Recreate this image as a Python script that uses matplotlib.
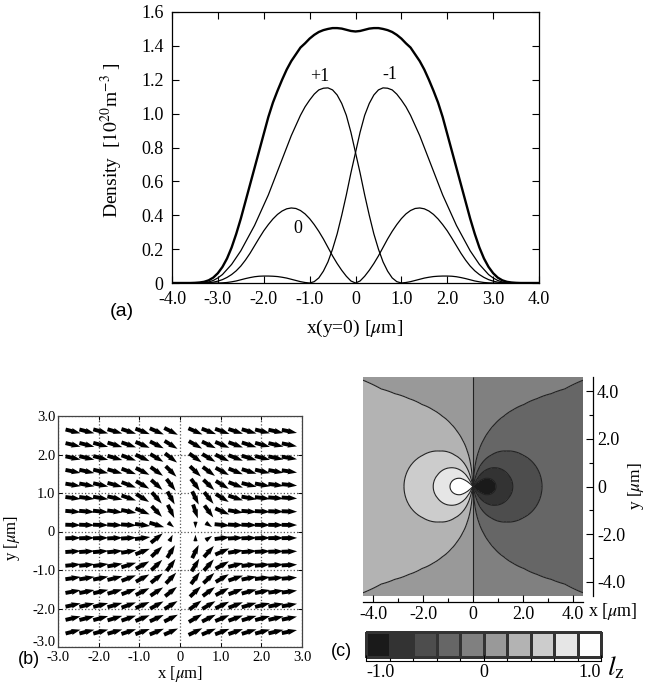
import numpy as np
import matplotlib
matplotlib.use('Agg')
import matplotlib.pyplot as plt
import matplotlib.transforms as mtransforms
from matplotlib.colors import ListedColormap, BoundaryNorm

plt.rcParams['font.family'] = 'serif'
plt.rcParams['font.serif'] = ['Liberation Serif', 'DejaVu Serif']
plt.rcParams['mathtext.fontset'] = 'stix'

W, H = 647, 685

# ---------------- (a) densities along y = 0 ----------------
x_a = np.round(np.arange(-4.0, 4.01, 0.1), 1)

# m = +1 component, x = -4.0 ... 4.0
dens_p1 = [0, 0, 0, 0, 0, 0, 0,
           0.002, 0.006, 0.015, 0.03, 0.05, 0.08, 0.11, 0.15, 0.19, 0.24,
           0.29, 0.34, 0.40, 0.46, 0.52, 0.59, 0.66, 0.73, 0.80, 0.87,
           0.93, 0.99, 1.04, 1.08, 1.115, 1.14, 1.15, 1.152, 1.14, 1.11,
           1.06, 0.99, 0.89, 0.77, 0.65, 0.52, 0.40, 0.29, 0.20, 0.125,
           0.07, 0.03, 0.008, 0.0, 0.003, 0.008, 0.015, 0.022, 0.029, 0.034,
           0.038, 0.040, 0.041, 0.041, 0.040, 0.037, 0.032, 0.026, 0.019, 0.012,
           0.007, 0.003, 0.001,
           0, 0, 0, 0, 0, 0, 0, 0, 0, 0, 0]
# m = -1 is the mirror image of m = +1
dens_m1 = dens_p1[::-1]

# m = 0 component and total density, x = 0 ... 4.0 (symmetric)
dens_0_half = [0.0, 0.012, 0.04, 0.075, 0.115, 0.16, 0.21, 0.26, 0.305, 0.345,
               0.38, 0.408, 0.428, 0.44, 0.443, 0.438, 0.425, 0.405, 0.378, 0.345,
               0.308, 0.265, 0.22, 0.175, 0.135, 0.10, 0.072, 0.05, 0.033, 0.02,
               0.011, 0.005, 0.002, 0.0, 0, 0, 0, 0, 0, 0, 0]
dens_tot_half = [1.485, 1.488, 1.495, 1.502, 1.505, 1.505, 1.50, 1.493, 1.482, 1.465,
                 1.443, 1.415, 1.39, 1.35, 1.31, 1.26, 1.20, 1.135, 1.065, 0.98,
                 0.88, 0.78, 0.68, 0.58, 0.48, 0.38, 0.29, 0.21, 0.145, 0.095,
                 0.058, 0.032, 0.016, 0.007, 0.003, 0.001, 0.0, 0, 0, 0, 0]

dens_0 = list(dens_0_half[:0:-1]) + list(dens_0_half)
dens_tot = list(dens_tot_half[:0:-1]) + list(dens_tot_half)

curve_labels = [('+1', -0.77, 1.22), ('-1', 0.75, 1.23), ('0', -1.25, 0.32)]

# ---------------- (b) in-plane spin texture ----------------
b_cols = [-2.63, -2.29, -1.95, -1.60, -1.26, -0.92, -0.57, -0.22,
          0.38, 0.71, 1.04, 1.37, 1.70, 2.03, 2.36, 2.69]
b_rows = [2.60, 2.25, 1.91, 1.56, 1.21, 0.87, 0.52, 0.17,
          -0.17, -0.52, -0.87, -1.21, -1.56, -1.91, -2.25, -2.60]
# arrow direction in degrees, one row per b_rows entry
b_angles = [
    [-15, -15, -16, -17, -19, -22, -25, -28, -25, -22, -21, -19, -17, -15, -13, -12],
    [-14, -15, -16, -18, -20, -24, -28, -33, -31, -27, -24, -21, -19, -16, -14, -12],
    [-13, -14, -15, -17, -21, -26, -32, -39, -37, -32, -27, -22, -18, -15, -12, -10],
    [-12, -13, -14, -17, -22, -28, -37, -46, -45, -38, -30, -23, -18, -14, -11, -9],
    [-10, -11, -13, -16, -22, -31, -43, -54, -55, -45, -33, -22, -15, -11, -8, -6],
    [-8, -8, -10, -13, -20, -33, -50, -62, -65, -53, -33, -19, -11, -7, -5, -4],
    [-5, -5, -6, -8, -12, -24, -48, -65, -72, -55, -25, -10, -5, -3, -2, -2],
    [-2, -2, -2, -3, -4, -8, -18, -40, -90, -35, -6, -3, -2, -1, -1, -1],
    [2, 2, 2, 3, 4, 8, 40, 65, 90, 35, 8, 4, 2, 2, 1, 1],
    [4, 4, 5, 6, 10, 22, 45, 60, 65, 50, 25, 10, 5, 3, 2, 2],
    [6, 6, 8, 11, 18, 30, 45, 55, 60, 50, 30, 15, 8, 6, 4, 3],
    [9, 10, 12, 15, 22, 30, 40, 48, 55, 45, 32, 20, 12, 8, 6, 5],
    [11, 12, 14, 17, 22, 28, 35, 40, 45, 38, 30, 22, 16, 12, 9, 8],
    [13, 14, 15, 17, 21, 25, 30, 33, 38, 32, 27, 22, 18, 15, 12, 10],
    [14, 15, 16, 18, 20, 23, 26, 28, 32, 28, 24, 21, 18, 16, 14, 12],
    [15, 15, 16, 17, 19, 21, 23, 25, 27, 24, 22, 20, 18, 16, 14, 12],
]
# shortened arrows next to the core: (row, column, relative length)
b_short = [(7, 7, 0.5), (7, 8, 0.45), (7, 9, 0.5),
           (8, 7, 0.5), (8, 8, 0.45), (8, 9, 0.5)]

# ---------------- (c) l_z map ----------------
# radial amplitude of l_z read from the contour crossings on the x axis
lz_r = [0, 0.3, 0.6, 0.92, 1.2, 1.5, 2.0, 2.4, 2.76, 3.2, 3.6, 4.0, 4.5, 5.0, 5.5, 6.5]
lz_amp = [1.0, 0.96, 0.9, 0.8, 0.71, 0.62, 0.51, 0.445, 0.40, 0.355, 0.325, 0.30,
          0.28, 0.265, 0.255, 0.245]
lz_levels = [-1.0, -0.8, -0.6, -0.4, -0.2, 0.0, 0.2, 0.4, 0.6, 0.8, 1.0]
grays = ['#1a1a1a', '#333333', '#4d4d4d', '#666666', '#808080',
         '#999999', '#b3b3b3', '#cccccc', '#e6e6e6', '#ffffff']


def box(l, t, r, b):
    return [l / W, 1 - b / H, (r - l) / W, (b - t) / H]


def ftext(x, y, s, **kw):
    fig.text(x / W, 1 - y / H, s, **kw)


fig = plt.figure(figsize=(W / 100, H / 100), dpi=100)

# ---- panel (a)
ax_a = fig.add_axes(box(172, 12, 539, 283))
ax_a.plot(x_a, dens_tot, color='k', lw=1.7)
ax_a.plot(x_a, dens_p1, color='k', lw=0.9)
ax_a.plot(x_a, dens_m1, color='k', lw=0.9)
ax_a.plot(x_a, dens_0, color='k', lw=0.9)
for txt, lx, ly in curve_labels:
    ax_a.text(lx, ly, txt, fontsize=13, ha='center', va='center')
ax_a.set_xlim(-4, 4)
ax_a.set_ylim(0, 1.6)
ax_a.set_xticks(np.arange(-4, 4.1, 1))
ax_a.set_xticklabels(['-4.0', '-3.0', '-2.0', '-1.0', '0', '1.0', '2.0', '3.0', '4.0'])
ax_a.set_yticks(np.arange(0, 1.61, 0.2))
ax_a.set_yticklabels(['0', '0.2', '0.4', '0.6', '0.8', '1.0', '1.2', '1.4', '1.6'])
ax_a.tick_params(direction='in', top=True, right=True, length=5, width=0.8,
                 labelsize=13, pad=6)
for s in ax_a.spines.values():
    s.set_linewidth(0.9)
ftext(112, 140, r'Density  [$10^{20}$m$^{-3}$ ]', rotation=90, fontsize=14,
      ha='center', va='center')
ftext(355, 328, r'x(y=0) [$\mu$m]', fontsize=14, ha='center', va='center')
ftext(122, 312, '(a)', fontsize=14, family='Liberation Sans', ha='center', va='center')

# ---- panel (b)
ax_b = fig.add_axes(box(58, 416, 302, 647))
Xq, Yq = np.meshgrid(b_cols, b_rows)
rel = np.ones_like(Xq)
for i, j, f in b_short:
    rel[i, j] = f
ang = np.radians(np.array(b_angles, dtype=float))
U = 0.38 * rel * np.cos(ang)
V = 0.38 * rel * np.sin(ang)
ax_b.quiver(Xq, Yq, U, V, angles='xy', scale_units='xy', scale=1, pivot='mid',
            width=0.016, headwidth=1.6, headlength=2.4, headaxislength=2.2,
            color='k', zorder=3)
ax_b.set_xlim(-3, 3)
ax_b.set_ylim(-3, 3)
ticks_b = np.arange(-3, 3.1, 1)
labels_b = ['-3.0', '-2.0', '-1.0', '0', '1.0', '2.0', '3.0']
ax_b.set_xticks(ticks_b)
ax_b.set_xticklabels(labels_b)
ax_b.set_yticks(ticks_b)
ax_b.set_yticklabels(labels_b)
ax_b.grid(True, linestyle=':', color='#555555', lw=0.9, zorder=1)
ax_b.tick_params(direction='in', top=True, right=True, length=3, width=0.7,
                 labelsize=10.5, pad=2)
ax_b.tick_params(axis='x', pad=3)
# lift the lowest y label clear of the x labels
lowest = ax_b.get_yticklabels()[0]
lowest.set_transform(lowest.get_transform() +
                     mtransforms.ScaledTranslation(0, 4 / 72, fig.dpi_scale_trans))
for s in ax_b.spines.values():
    s.set_linewidth(0.9)
    s.set_color('#444444')
ftext(12, 538, r'y [$\mu$m]', rotation=90, fontsize=12, ha='center', va='center')
ftext(180, 674, r'x [$\mu$m]', fontsize=12, ha='center', va='center')
ftext(29, 660, '(b)', fontsize=13, family='Liberation Sans', ha='center', va='center')

# ---- panel (c)
ax_c = fig.add_axes(box(363, 377, 583, 596))
gx = np.linspace(-4.4, 4.4, 800)
gy = np.linspace(-4.6, 4.6, 800)
GX, GY = np.meshgrid(gx, gy)
R = np.hypot(GX, GY)
lz = -np.sign(GX) * np.abs(GX / R) ** 0.6 * np.interp(R, lz_r, lz_amp)
lz = np.clip(lz, -0.999, 0.999)
cmap = ListedColormap(grays)
norm = BoundaryNorm(lz_levels, cmap.N)
ax_c.contourf(GX, GY, lz, levels=lz_levels, cmap=cmap, norm=norm)
ax_c.contour(GX, GY, lz, levels=lz_levels[1:-1], colors='#222222',
             linewidths=0.8, linestyles='solid')
ax_c.set_xlim(-4.4, 4.4)
ax_c.set_ylim(-4.6, 4.6)
ax_c.spines['left'].set_visible(False)
ax_c.spines['top'].set_visible(False)
ax_c.spines['bottom'].set_position(('outward', 4))
ax_c.spines['right'].set_position(('outward', 7))
ax_c.yaxis.tick_right()
ax_c.set_xticks([-4, -2, 0, 2, 4])
ax_c.set_xticklabels(['-4.0', '-2.0', '0', '2.0', '4.0'])
ax_c.set_xticks([-3, -1, 1, 3], minor=True)
ax_c.set_yticks([-4, -2, 0, 2, 4])
ax_c.set_yticklabels(['-4.0', '-2.0', '0', '2.0', '4.0'])
ax_c.set_yticks([-3, -1, 1, 3], minor=True)
ax_c.tick_params(which='major', direction='in', length=5, width=0.8, labelsize=13, pad=3)
ax_c.tick_params(which='minor', direction='in', length=3, width=0.8)
for s in ax_c.spines.values():
    s.set_linewidth(0.9)
ftext(588, 611, r'x [$\mu$m]', fontsize=13, ha='left', va='center')
ftext(636, 486, r'y [$\mu$m]', rotation=90, fontsize=12.5, ha='center', va='center')

# ---- colour scale for (c)
ax_cb = fig.add_axes(box(366, 632, 601, 657))
edges = np.array(lz_levels)
centers = 0.5 * (edges[:-1] + edges[1:])
mesh = ax_cb.pcolormesh(edges, [0, 1], centers[np.newaxis, :], cmap=cmap, norm=norm,
                        edgecolors='#333333', linewidth=0.8)
mesh.set_clip_on(False)
ax_cb.set_xlim(-1, 1)
ax_cb.set_ylim(0, 1)
for side in ['left', 'right', 'top']:
    ax_cb.spines[side].set_visible(False)
ax_cb.spines['bottom'].set_position(('outward', 3))
ax_cb.set_yticks([])
ax_cb.set_xticks([-1, 0, 1])
ax_cb.set_xticklabels(['-1.0', '0', '1.0'])
ax_cb.set_xticks(np.arange(-0.8, 0.81, 0.2), minor=True)
ax_cb.tick_params(which='major', direction='in', length=4, width=0.8, labelsize=13, pad=2)
ax_cb.tick_params(which='minor', direction='in', length=2.5, width=0.8)
cb_labels = ax_cb.get_xticklabels()
cb_labels[0].set_horizontalalignment('left')
cb_labels[2].set_horizontalalignment('right')
ftext(607, 668, r'$l_{\mathrm{z}}$', fontsize=20, ha='left', va='center')
ftext(341, 651, '(c)', fontsize=13, family='Liberation Sans', ha='center', va='center')

fig.savefig('out.png', dpi=100)
